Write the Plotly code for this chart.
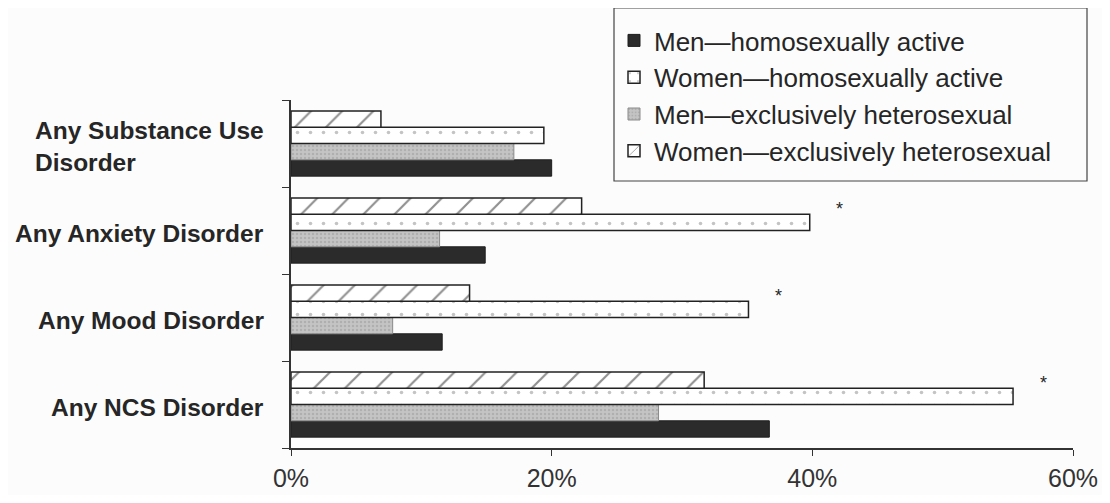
import plotly.graph_objects as go

# ---- data (bottom to top) ----
categories = ["Any NCS Disorder", "Any Mood Disorder", "Any Anxiety Disorder", "Any Substance Use<br>Disorder"]
men_homo = [36.7, 11.6, 14.9, 20.0]
men_het = [28.2, 7.8, 11.4, 17.1]
women_homo = [55.4, 35.1, 39.8, 19.4]
women_het = [31.7, 13.7, 22.3, 6.9]
significant = [True, True, True, False]   # asterisk next to Women—homosexually active
x_ticks = [0, 20, 40, 60]
x_tick_labels = ["0%", "20%", "40%", "60%"]

OFF = 8  # default page body margin
W, H = 1110 - 2 * OFF, 503 - 2 * OFF
ML, MR, MT, MB = 283, 29, 92, 47
PW, PH = W - ML - MR, H - MT - MB

def px_x(q):  # screen pixel -> paper x
    return (q - OFF - ML) / PW

def px_y(p):  # screen pixel -> paper y
    return (H - MB - (p - OFF)) / PH

TXT = "#262626"
FONT = "Liberation Sans, Arial, sans-serif"

fig = go.Figure()
fig.add_trace(go.Bar(
    y=categories, x=men_homo, orientation="h", name="Men\u2014homosexually active",
    marker=dict(color="#2b2b2b", line=dict(color="#1e1e1e", width=1)), legendrank=1))
fig.add_trace(go.Bar(
    y=categories, x=men_het, orientation="h", name="Men\u2014exclusively heterosexual",
    marker=dict(color="#b9b9b9", line=dict(color="#8a8a8a", width=1),
                pattern=dict(shape=".", fgcolor="#9a9a9a", bgcolor="#c4c4c4", size=4, solidity=0.3)),
    legendrank=3))
fig.add_trace(go.Bar(
    y=categories, x=women_homo, orientation="h", name="Women\u2014homosexually active",
    marker=dict(color="white", line=dict(color="#222", width=1.5),
                pattern=dict(shape=".", fgcolor="#8a8a8a", bgcolor="white", size=13, solidity=0.06)),
    legendrank=2))
fig.add_trace(go.Bar(
    y=categories, x=women_het, orientation="h", name="Women\u2014exclusively heterosexual",
    marker=dict(color="white", line=dict(color="#222", width=1.5),
                pattern=dict(shape="/", fgcolor="#222", bgcolor="white", size=22, solidity=0.1)),
    legendrank=4))

annotations = []
for cat in categories:
    annotations.append(dict(
        x=0, xref="paper", y=cat, yref="y", text=cat, showarrow=False,
        xanchor="right", yanchor="middle", align="left", xshift=-25, yshift=-3,
        font=dict(family=FONT, size=24.5, color=TXT, weight="bold")))
for cat, v, sig in zip(categories, women_homo, significant):
    if sig:
        annotations.append(dict(
            x=v, y=cat, xref="x", yref="y", text="*", showarrow=False,
            xanchor="center", yanchor="middle", xshift=30, yshift=22,
            font=dict(family=FONT, size=18, color=TXT)))

fig.update_layout(
    width=W, height=H,
    margin=dict(l=ML, r=MR, t=MT, b=MB, autoexpand=False),
    paper_bgcolor="#fcfcfc", plot_bgcolor="#fcfcfc",
    barmode="group", bargap=0.25, bargroupgap=0,
    showlegend=True,
    legend=dict(x=px_x(614), y=px_y(17), xanchor="left", yanchor="top",
                traceorder="normal", bgcolor="rgba(0,0,0,0)", borderwidth=0,
                font=dict(family=FONT, size=26, color=TXT), itemwidth=30),
    shapes=[dict(type="rect", xref="paper", yref="paper",
                 x0=px_x(614), x1=px_x(1087), y0=px_y(181), y1=px_y(8),
                 line=dict(color="#444", width=1.2), fillcolor="rgba(0,0,0,0)")],
    annotations=annotations,
    xaxis=dict(range=[0, 60], tickvals=x_ticks, ticktext=x_tick_labels, automargin=False,
               showgrid=False, zeroline=False, showline=True, linecolor="#333", linewidth=1.5,
               ticks="outside", ticklen=6, tickcolor="#333", ticklabelstandoff=1,
               tickfont=dict(family=FONT, size=25, color="#333")),
    yaxis=dict(type="category", range=[-0.5, 3.5], showgrid=False, zeroline=False, automargin=False,
               showline=True, linecolor="#333", linewidth=1.5,
               ticks="outside", tickson="boundaries", ticklen=7, tickcolor="#333",
               showticklabels=False),
)

fig.write_html("out.html")
